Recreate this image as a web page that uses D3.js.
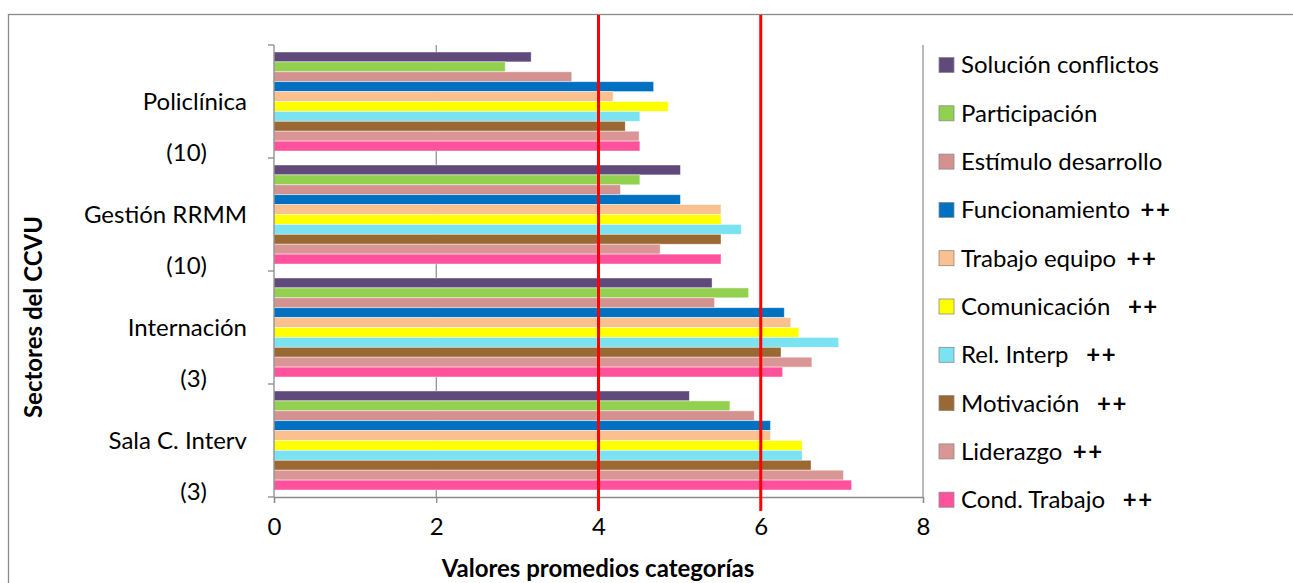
<!DOCTYPE html>
<html>
<head>
<meta charset="utf-8">
<script src="https://cdn.jsdelivr.net/npm/d3@7/dist/d3.min.js"></script>
<style>
  html, body { margin: 0; padding: 0; background: #fff; }
  svg { display: block; font-family: Lato, "Open Sans", sans-serif; }
  .pre { white-space: pre; }
</style>
</head>
<body>
<svg id="chart" width="1293" height="583"></svg>
<script>
// Sectors (top to bottom) and number of respondents per sector
const sectors = ["Policlínica", "Gestión RRMM", "Internación", "Sala C. Interv"];
const sectorCounts = ["(10)", "(10)", "(3)", "(3)"];

// Climate categories, in drawing order within each sector (top to bottom)
const categories = [
  "Solución conflictos", "Participación", "Estímulo desarrollo", "Funcionamiento",
  "Trabajo equipo", "Comunicación", "Rel. Interp", "Motivación", "Liderazgo", "Cond. Trabajo"
];
// Significance marks shown next to each legend entry
const marks = ["", "", "", " ++", " ++", "  ++", "  ++", "  ++", " ++", "  ++"];
const colors = [
  "#604A7B", "#92D050", "#D39290", "#0070C0", "#FAC090",
  "#FFFF00", "#7AE2F0", "#9A6833", "#DA9694", "#FF519C"
];

// Mean score per category, one array per sector
const policlinica  = [3.17, 2.85, 3.67, 4.68, 4.18, 4.86, 4.51, 4.33, 4.50, 4.51];
const gestionRRMM  = [5.01, 4.51, 4.27, 5.01, 5.51, 5.51, 5.76, 5.51, 4.76, 5.51];
const internacion  = [5.40, 5.85, 5.43, 6.29, 6.37, 6.47, 6.96, 6.25, 6.63, 6.27];
const salaCInterv  = [5.12, 5.62, 5.92, 6.12, 6.12, 6.51, 6.51, 6.62, 7.02, 7.12];
const sectorValues = [policlinica, gestionRRMM, internacion, salaCInterv];

const xTicks = [0, 2, 4, 6, 8];
const referenceLines = [4, 6];

const svg = d3.select("#chart");
const plot = { left: 274, right: 923, top: 45, bottom: 497 };
const gridColor = "#8a8a8a";
const fontSize = 24;

// Outer frame
svg.append("rect")
  .attr("x", 8.5).attr("y", 14.5)
  .attr("width", 1400).attr("height", 800)
  .attr("fill", "none").attr("stroke", gridColor).attr("stroke-width", 1.3);

const x = d3.scaleLinear().domain([0, 8]).range([plot.left, plot.right]);
const y = d3.scaleBand().domain(sectors).range([plot.top, plot.bottom]).padding(0);
const yInner = d3.scaleBand().domain(categories)
  .range([7, y.bandwidth() - 7]).padding(0);

// Vertical gridlines
svg.append("g").selectAll("line")
  .data(xTicks.filter(d => d > 0))
  .join("line")
  .attr("x1", d => x(d)).attr("x2", d => x(d))
  .attr("y1", plot.top).attr("y2", plot.bottom)
  .attr("stroke", gridColor).attr("stroke-width", 1.2);

// Bars
const groups = svg.append("g").selectAll("g")
  .data(sectors)
  .join("g")
  .attr("transform", d => `translate(0,${y(d)})`);

groups.selectAll("rect")
  .data((s, i) => sectorValues[i].map((v, j) => ({ cat: categories[j], v, color: colors[j] })))
  .join("rect")
  .attr("x", x(0))
  .attr("y", d => yInner(d.cat))
  .attr("width", d => x(d.v) - x(0))
  .attr("height", yInner.bandwidth())
  .attr("fill", d => d.color)
  .attr("stroke", "rgba(255,255,255,0.55)")
  .attr("stroke-width", 0.8);

// X axis
const xAxis = d3.axisBottom(x).tickValues(xTicks).tickSize(6).tickPadding(15)
  .tickFormat(d3.format("d"));
const gx = svg.append("g").attr("transform", `translate(0,${plot.bottom})`).call(xAxis);
gx.select(".domain").attr("stroke", gridColor).attr("stroke-width", 1.3);
gx.selectAll(".tick line").attr("stroke", gridColor).attr("stroke-width", 1.3);
gx.selectAll(".tick text").attr("font-size", fontSize).attr("fill", "#000")
  .attr("font-family", "Lato, sans-serif");

// Y axis (category boundaries)
const boundaries = sectors.map(s => y(s)).concat([plot.bottom]);
svg.append("line")
  .attr("x1", plot.left).attr("x2", plot.left)
  .attr("y1", plot.top).attr("y2", plot.bottom)
  .attr("stroke", gridColor).attr("stroke-width", 1.3);
svg.append("g").selectAll("line")
  .data(boundaries)
  .join("line")
  .attr("x1", plot.left - 6).attr("x2", plot.left)
  .attr("y1", d => d).attr("y2", d => d)
  .attr("stroke", gridColor).attr("stroke-width", 1.3);

// Sector labels: name and respondent count on separate lines
const labels = svg.append("g").attr("font-size", fontSize).attr("fill", "#000");
labels.selectAll("text.name")
  .data(sectors)
  .join("text")
  .attr("class", "name")
  .attr("x", 247)
  .attr("y", d => y(d) + y.bandwidth() / 2)
  .attr("dy", "0.35em")
  .attr("text-anchor", "end")
  .text(d => d);
labels.selectAll("text.count")
  .data(sectors)
  .join("text")
  .attr("class", "count")
  .attr("x", 207)
  .attr("y", d => y(d) + y.bandwidth() / 2 + 51)
  .attr("dy", "0.35em")
  .attr("text-anchor", "end")
  .text((d, i) => sectorCounts[i]);

// Reference lines
svg.append("g").selectAll("line")
  .data(referenceLines)
  .join("line")
  .attr("x1", d => x(d)).attr("x2", d => x(d))
  .attr("y1", 15).attr("y2", 511)
  .attr("stroke", "#FF0000").attr("stroke-width", 3);

// Axis titles
svg.append("text")
  .attr("transform", "translate(42,317) rotate(-90)")
  .attr("text-anchor", "middle")
  .attr("font-size", fontSize).attr("font-weight", "bold")
  .text("Sectores del CCVU");
svg.append("text")
  .attr("x", 598).attr("y", 577)
  .attr("text-anchor", "middle")
  .attr("font-size", fontSize).attr("font-weight", "bold")
  .text("Valores promedios categorías");

// Legend
const legend = svg.append("g").attr("transform", "translate(939,0)");
const entry = legend.selectAll("g")
  .data(categories)
  .join("g")
  .attr("transform", (d, i) => `translate(0,${65 + i * 48.3})`);
entry.append("rect")
  .attr("x", 0).attr("y", -7.5)
  .attr("width", 15).attr("height", 15)
  .attr("fill", (d, i) => colors[i])
  .attr("stroke", "#8a8a8a").attr("stroke-width", 0.8);
const lt = entry.append("text")
  .attr("class", "pre")
  .attr("x", 22).attr("dy", "0.35em")
  .attr("font-size", fontSize).attr("fill", "#000");
lt.append("tspan").text(d => d);
lt.append("tspan")
  .attr("font-weight", "bold")
  .attr("dx", 3)
  .attr("letter-spacing", 1.5)
  .text((d, i) => marks[i]);
</script>
</body>
</html>
